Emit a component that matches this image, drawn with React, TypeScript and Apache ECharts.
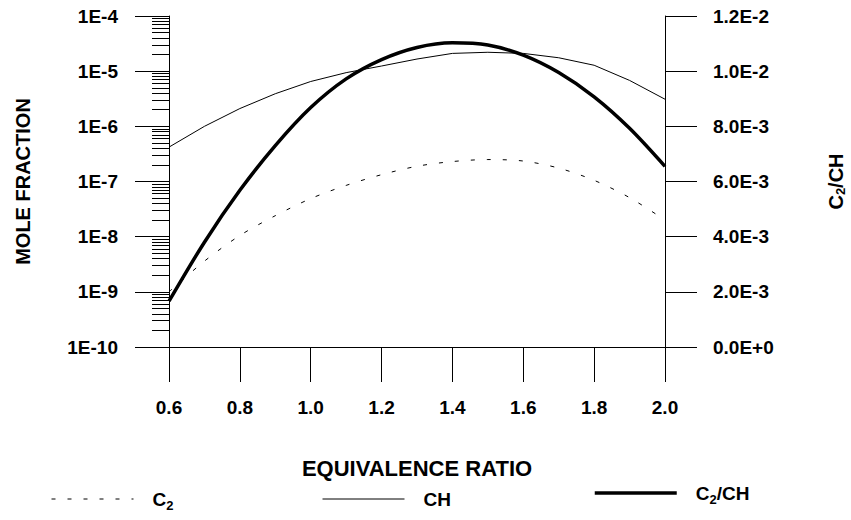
import React, { useEffect, useRef } from 'react';
import * as echarts from 'echarts';

// Equivalence ratio (x) sample points
const ratioX = [0.6, 0.7, 0.8, 0.9, 1.0, 1.1, 1.2, 1.3, 1.4, 1.5, 1.6, 1.7, 1.8, 1.9, 2.0];
// C2 mole fraction (left, log axis)
const c2Values = [1.0e-9, 3.6e-9, 1.05e-8, 2.4e-8, 4.9e-8, 8.5e-8, 1.33e-7, 1.89e-7, 2.3e-7, 2.5e-7, 2.35e-7, 1.75e-7, 1.05e-7, 5.1e-8, 2.0e-8];
// CH mole fraction (left, log axis)
const chValues = [4.2e-7, 1.0e-6, 2.1e-6, 3.9e-6, 6.5e-6, 9.4e-6, 1.24e-5, 1.66e-5, 2.1e-5, 2.2e-5, 2.1e-5, 1.75e-5, 1.28e-5, 6.8e-6, 3.1e-6];
// C2/CH ratio (right, linear axis)
const c2chValues = [1.66e-3, 3.8e-3, 5.68e-3, 7.3e-3, 8.68e-3, 9.72e-3, 1.042e-2, 1.086e-2, 1.103e-2, 1.095e-2, 1.058e-2, 9.95e-3, 9.07e-3, 7.93e-3, 6.55e-3];

const seriesNames = ['C2', 'CH', 'C2/CH'];
const decadeExponents = [-10, -9, -8, -7, -6, -5];
const minorMultipliers = [2, 3, 4, 5, 6, 7, 8, 9];
const minorTickValues: number[] = [];
decadeExponents.forEach((e) => minorMultipliers.forEach((m) => minorTickValues.push(m * Math.pow(10, e))));

const FONT = "'Liberation Sans', Arial, Helvetica, sans-serif";
const baseText = { fontFamily: FONT, fontWeight: 'bold' as const, fontSize: 19, color: '#000' };
const subRich = {
  s: { fontFamily: FONT, fontWeight: 'bold' as const, fontSize: 13, color: '#000', verticalAlign: 'bottom' as const, lineHeight: 26 },
};
const subRichTight = {
  s: { fontFamily: FONT, fontWeight: 'bold' as const, fontSize: 13, color: '#000', verticalAlign: 'bottom' as const, lineHeight: 22 },
};

const legendName = (n: string) => (n === 'C2' ? 'C{s|2}' : n === 'C2/CH' ? 'C{s|2}/CH' : n);

export default function App() {
  const ref = useRef<HTMLDivElement>(null);
  useEffect(() => {
    document.body.style.margin = '0';
    if (!ref.current) return;
    const chart = echarts.init(ref.current, null, { renderer: 'svg' });
    const zip = (ys: number[]) => ratioX.map((x, i) => [x, ys[i]]);
    const legendCommon = {
      itemWidth: 82,
      itemHeight: 14,
      selectedMode: false,
      formatter: legendName,
      itemStyle: { opacity: 0, borderWidth: 0 },
      textStyle: { ...baseText, lineHeight: 26, padding: [0, 0, 0, 14], rich: subRich },
    };
    chart.setOption({
      animation: false,
      backgroundColor: '#fff',
      grid: { left: 169, right: 186, top: 16, bottom: 173, containLabel: false, outerBoundsMode: 'none' },
      xAxis: {
        type: 'value',
        min: 0.6,
        max: 2.0,
        interval: 0.2,
        axisLine: { show: true, onZero: false, lineStyle: { color: '#000', width: 1 } },
        axisTick: { show: true, length: 35, lineStyle: { color: '#000', width: 1 } },
        axisLabel: { ...baseText, margin: 51, formatter: (v: number) => v.toFixed(1) },
        splitLine: { show: false },
        name: 'EQUIVALENCE RATIO',
        nameLocation: 'middle',
        nameGap: 110,
        nameTextStyle: { ...baseText, fontSize: 22 },
      },
      yAxis: [
        {
          type: 'log',
          logBase: 10,
          min: 1e-10,
          max: 1e-4,
          splitNumber: 6,
          position: 'left',
          axisLine: { show: true, lineStyle: { color: '#000', width: 1 } },
          axisTick: { show: true, length: 34, lineStyle: { color: '#000', width: 1 } },
          axisLabel: { ...baseText, margin: 51, formatter: (v: number) => '1E' + Math.round(Math.log10(v)) },
          splitLine: { show: false },
          name: 'MOLE FRACTION',
          nameLocation: 'middle',
          nameGap: 136,
          nameRotate: 90,
          nameTextStyle: { ...baseText, fontSize: 20 },
        },
        {
          type: 'value',
          min: 0,
          max: 0.012,
          interval: 0.002,
          position: 'right',
          axisLine: { show: true, lineStyle: { color: '#000', width: 1 } },
          axisTick: { show: true, length: 32, lineStyle: { color: '#000', width: 1 } },
          axisLabel: { ...baseText, margin: 48, formatter: (v: number) => v.toExponential(1).toUpperCase() },
          splitLine: { show: false },
          name: 'C{s|2}/CH',
          nameLocation: 'middle',
          nameGap: 160,
          nameRotate: 90,
          nameTextStyle: { ...baseText, fontSize: 20, lineHeight: 22, rich: subRichTight },
        },
        {
          type: 'log',
          logBase: 10,
          min: 1e-10,
          max: 1e-4,
          splitNumber: 6,
          position: 'left',
          axisLine: { show: false },
          axisTick: { show: true, length: 17, customValues: minorTickValues, lineStyle: { color: '#000', width: 1 } },
          axisLabel: { show: false },
          splitLine: { show: false },
        },
      ],
      legend: [
        { ...legendCommon, data: [seriesNames[0]], left: 46, top: 481, lineStyle: { width: 1 } },
        { ...legendCommon, data: [seriesNames[1]], left: 317, top: 481, lineStyle: { width: 1 } },
        { ...legendCommon, data: [seriesNames[2]], left: 588, top: 475, lineStyle: { width: 3.5 } },
      ],
      series: [
        {
          name: seriesNames[0],
          type: 'line',
          yAxisIndex: 0,
          data: zip(c2Values),
          smooth: 0.3,
          symbol: 'none',
          lineStyle: { color: '#000', width: 1, type: [4, 12] },
        },
        {
          name: seriesNames[1],
          type: 'line',
          yAxisIndex: 0,
          data: zip(chValues),
          symbol: 'none',
          lineStyle: { color: '#000', width: 1 },
        },
        {
          name: seriesNames[2],
          type: 'line',
          yAxisIndex: 1,
          data: zip(c2chValues),
          smooth: 0.3,
          symbol: 'none',
          lineStyle: { color: '#000', width: 3.5 },
        },
      ],
    });
    return () => chart.dispose();
  }, []);
  return <div ref={ref} style={{ width: 851, height: 520 }} />;
}
